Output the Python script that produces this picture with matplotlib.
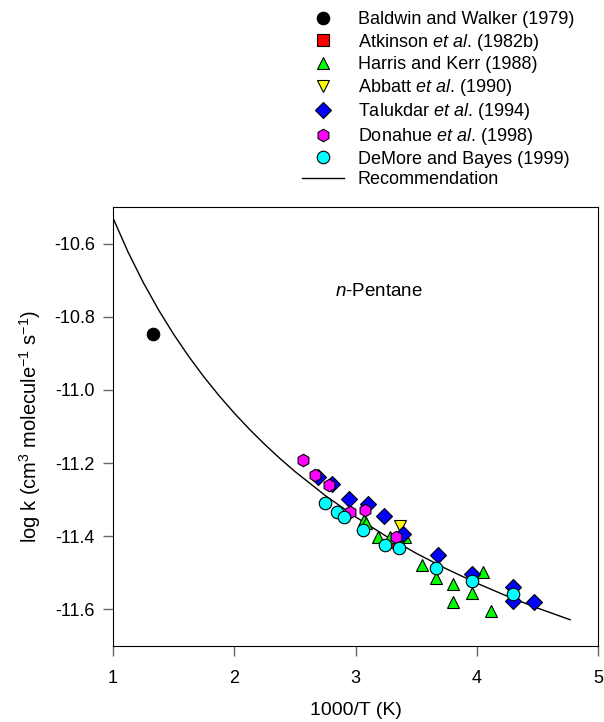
import numpy as np
import matplotlib
matplotlib.use("Agg")
import matplotlib.pyplot as plt
from matplotlib.lines import Line2D

plt.rcParams['font.family'] = ['Liberation Sans', 'DejaVu Sans']
plt.rcParams['mathtext.fontset'] = 'custom'
plt.rcParams['mathtext.rm'] = 'Liberation Sans'
plt.rcParams['mathtext.it'] = 'Liberation Sans:italic'
plt.rcParams['mathtext.default'] = 'regular'

# data (x = 1000/T, y = log k)
baldwin_x = [1.33]
baldwin_y = [-10.848]

atkinson_x = [3.34]
atkinson_y = [-11.415]

harris_x = [3.07, 3.09, 3.188, 3.285, 3.408, 3.546, 3.667, 3.807, 3.807, 3.958, 4.054, 4.118]
harris_y = [-11.355, -11.365, -11.403, -11.403, -11.403, -11.478, -11.515, -11.530, -11.581, -11.554, -11.499, -11.605]

abbatt_x = [3.367]
abbatt_y = [-11.373]

talukdar_x = [2.693, 2.809, 2.946, 3.106, 3.238, 3.389, 3.683, 3.958, 4.296, 4.296, 4.472]
talukdar_y = [-11.237, -11.256, -11.297, -11.312, -11.346, -11.393, -11.450, -11.503, -11.540, -11.577, -11.579]

donahue_x = [2.570, 2.666, 2.781, 2.955, 3.078, 3.334]
donahue_y = [-11.191, -11.233, -11.260, -11.334, -11.329, -11.401]

demore_x = [2.748, 2.850, 2.908, 3.065, 3.243, 3.361, 3.664, 3.958, 4.296]
demore_y = [-11.309, -11.334, -11.347, -11.382, -11.423, -11.432, -11.488, -11.523, -11.558]

rec_x = [1.0, 1.125, 1.25, 1.375, 1.5, 1.625, 1.75, 1.875, 2.0, 2.125, 2.25,
         2.375, 2.5, 2.75, 3.0, 3.25, 3.5, 3.75, 4.0, 4.25, 4.5, 4.77]
rec_y = [-10.5300, -10.6237, -10.7067, -10.7809, -10.8479, -10.9088, -10.9646,
         -11.0159, -11.0634, -11.1075, -11.1486, -11.1870, -11.2229, -11.2886,
         -11.3470, -11.3994, -11.4466, -11.4893, -11.5283, -11.5638, -11.5962,
         -11.6283]

series = [
    ("Baldwin and Walker (1979)", baldwin_x, baldwin_y, 'o', 'black', 9),
    ("Atkinson $\\it{et\\ al}$. (1982b)", atkinson_x, atkinson_y, 's', 'red', 8),
    ("Harris and Kerr (1988)", harris_x, harris_y, '^', '#00ff00', 9),
    ("Abbatt $\\it{et\\ al}$. (1990)", abbatt_x, abbatt_y, 'v', 'yellow', 9),
    ("Talukdar $\\it{et\\ al}$. (1994)", talukdar_x, talukdar_y, 'D', 'blue', 8),
    ("Donahue $\\it{et\\ al}$. (1998)", donahue_x, donahue_y, 'h', 'magenta', 9),
    ("DeMore and Bayes (1999)", demore_x, demore_y, 'o', 'cyan', 9),
]

fig = plt.figure(figsize=(6.04, 7.22), dpi=100)
ax = fig.add_axes([0.1871, 0.1053, 0.8030, 0.6080])

handles = []
for label, xs, ys, m, c, ms in series:
    ax.plot(xs, ys, linestyle='none', marker=m, markersize=ms,
            markerfacecolor=c, markeredgecolor='black', markeredgewidth=0.8)
    handles.append(Line2D([], [], linestyle='none', marker=m, markersize=ms,
                          markerfacecolor=c, markeredgecolor='black',
                          markeredgewidth=0.8, label=label))

ax.plot(rec_x, rec_y, color='black', linewidth=1.0, zorder=1)
handles.append(Line2D([], [], color='black', linewidth=1.0, label='Recommendation'))

ax.set_xlim(1, 5)
ax.set_ylim(-11.7, -10.5)
ax.set_xticks([1, 2, 3, 4, 5])
ax.set_yticks([-11.6, -11.4, -11.2, -11.0, -10.8, -10.6])
ax.set_yticklabels(['-11.6', '-11.4', '-11.2', '-11.0', '-10.8', '-10.6'])
ax.tick_params(axis='both', direction='out', length=7, width=1, color='0.4',
               labelsize=13)
ax.tick_params(axis='x', pad=10)
ax.tick_params(axis='y', pad=6)

ax.set_xlabel("1000/T (K)", fontsize=14, labelpad=11)
ax.set_ylabel("log k (cm$^3$ molecule$^{-1}$ s$^{-1}$)", fontsize=14.5, labelpad=8)

ax.text(2.831, -10.73, "$\\it{n}$-Pentane", fontsize=13.5, ha='left', va='center')

fig.legend(handles=handles, loc='upper left', bbox_to_anchor=(302 / 604, 1 - 11 / 722),
           frameon=False, fontsize=13, borderpad=0, borderaxespad=0,
           handlelength=2.3, handletextpad=0.8, labelspacing=0.2)

fig.savefig("out.png", dpi=100)
